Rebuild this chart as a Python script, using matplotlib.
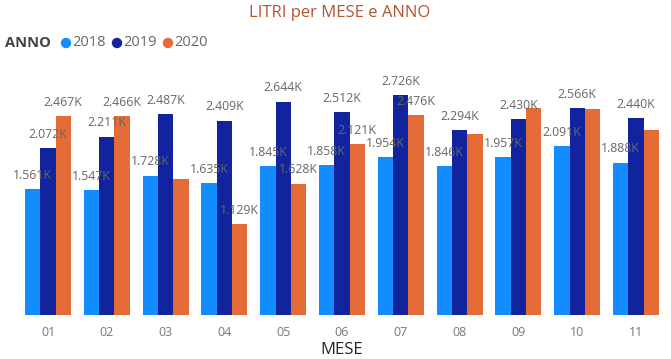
import numpy as np
import matplotlib
matplotlib.use("Agg")
import matplotlib.pyplot as plt

# -----------------------------
# DATA
# -----------------------------
mesi = ["01", "02", "03", "04", "05", "06", "07", "08", "09", "10", "11"]
anni = ["2018", "2019", "2020"]
litri_2018 = [1561, 1547, 1728, 1635, 1845, 1858, 1954, 1846, 1957, 2091, 1888]
litri_2019 = [2072, 2211, 2487, 2409, 2644, 2512, 2726, 2294, 2430, 2566, 2440]
litri_2020 = [2467, 2466, 1690, 1129, 1628, 2121, 2476, 2245, 2565, 2553, 2292]
# labels that Power BI hid because they collided
hidden_2020 = ["03", "08", "09", "10", "11"]

colori = ["#118DFF", "#12239E", "#E66C37"]

plt.rcParams["font.family"] = ["Open Sans", "DejaVu Sans"]

fig = plt.figure(figsize=(6.71, 3.59), dpi=100)
ax = fig.add_axes([0, (359 - 315) / 359, 1, 255 / 359])

x = np.arange(len(mesi))
w = 0.26
series = [litri_2018, litri_2019, litri_2020]
for i, (vals, col) in enumerate(zip(series, colori)):
    pos = x + (i - 1) * w
    ax.bar(pos, vals, width=w, color=col, zorder=2)
    for m, p, v in zip(mesi, pos, vals):
        if i == 2 and m in hidden_2020:
            continue
        ax.text(p, v + 90, f"{v / 1000:.3f}K", ha="center", va="bottom",
                fontsize=8.8, color="#666666", zorder=5)

ax.set_xlim(-48 / 58.8, (671 - 48) / 58.8)
ax.set_ylim(0, 3160)
ax.set_xticks(x)
ax.set_xticklabels(mesi, fontsize=9, color="#777777")
ax.tick_params(axis="x", length=0, pad=8)
ax.set_yticks([])
for s in ax.spines.values():
    s.set_visible(False)

# title, axis title, legend
fig.text(340 / 671, 1 - 13 / 359, "LITRI per MESE e ANNO", ha="center", va="center",
         fontsize=12, color="#B5532F")
fig.text(342 / 671, 1 - 350 / 359, "MESE", ha="center", va="center",
         fontsize=12, color="#252423")
fig.text(5 / 671, 1 - 43 / 359, "ANNO", ha="left", va="center",
         fontsize=10.5, fontweight="bold", color="#444444")
lx = [66, 117, 168]
for xx, a, col in zip(lx, anni, colori):
    fig.patches.append(matplotlib.patches.Ellipse((xx / 671, 1 - 43 / 359), 9 / 671, 9 / 359,
                                                  transform=fig.transFigure, color=col))
    fig.text((xx + 6) / 671, 1 - 43 / 359, a, ha="left", va="center",
             fontsize=10.5, color="#666666")

fig.savefig("out.png", dpi=100)
